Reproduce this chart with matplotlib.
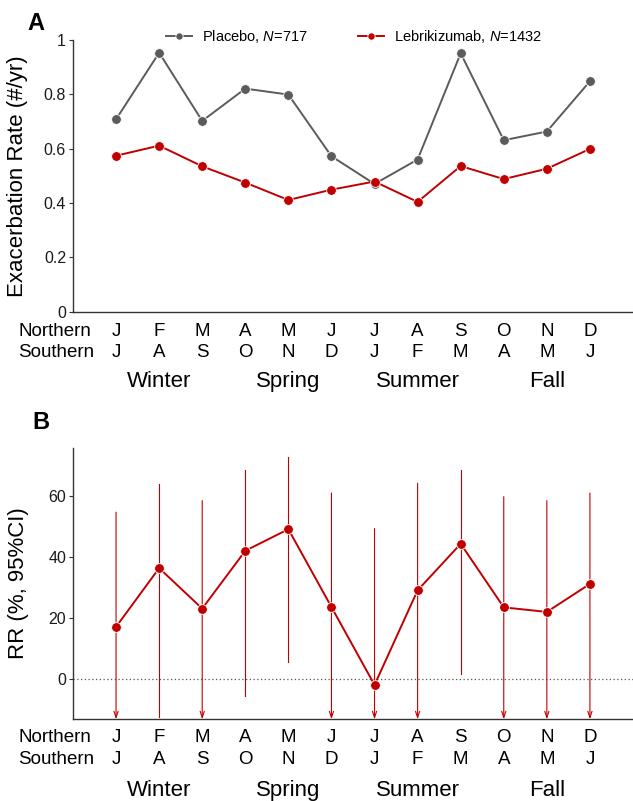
import matplotlib
matplotlib.use("Agg")
import matplotlib.pyplot as plt

# months shown in each hemisphere, seasons under them
months = list(range(1, 13))
north = ["J", "F", "M", "A", "M", "J", "J", "A", "S", "O", "N", "D"]
south = ["J", "A", "S", "O", "N", "D", "J", "F", "M", "A", "M", "J"]
seasons = ["Winter", "Spring", "Summer", "Fall"]
season_pos = [2, 5, 8, 11]

# panel A: exacerbation rate (#/yr)
placebo = [0.708, 0.953, 0.702, 0.821, 0.799, 0.572, 0.470, 0.560, 0.951, 0.631, 0.663, 0.848]
lebri = [0.574, 0.611, 0.535, 0.475, 0.411, 0.449, 0.479, 0.404, 0.536, 0.488, 0.526, 0.599]

# panel B: rate reduction (%) with 95% CI, None = lower bound off the axis
rr = [17.1, 36.4, 23.1, 42.1, 49.2, 23.6, -2.0, 29.1, 44.4, 23.5, 22.0, 31.2]
rr_hi = [54.8, 64.2, 58.6, 68.6, 72.9, 61.1, 49.4, 64.3, 68.8, 59.9, 58.6, 61.1]
rr_lo = [None, -12.6, None, -5.8, 5.7, None, None, None, 1.5, None, None, None]

GRAY = "#5b5b5b"
RED = "#c00000"

plt.rcParams["font.family"] = ["Liberation Sans", "DejaVu Sans"]
plt.rcParams["mathtext.fontset"] = "custom"
plt.rcParams["mathtext.rm"] = "Liberation Sans"
plt.rcParams["mathtext.it"] = "Liberation Sans:italic"


def style_axis(ax):
    for s in ["top", "right"]:
        ax.spines[s].set_visible(False)
    for s in ["left", "bottom"]:
        ax.spines[s].set_color("#333333")
        ax.spines[s].set_linewidth(1.0)
    ax.set_xlim(0, 13)
    ax.set_xticks([])
    ax.tick_params(axis="y", length=3, width=0.8, color="#333333",
                   labelsize=11.5, labelcolor="#1a1a1a", pad=2)


def month_rows(fig, ax, offs):
    for x, n, s in zip(months, north, south):
        ax.annotate(n, xy=(x, 0), xycoords=("data", "axes fraction"),
                    xytext=(0, -offs[0] * 0.72), textcoords="offset points",
                    ha="center", va="center", fontsize=13.5)
        ax.annotate(s, xy=(x, 0), xycoords=("data", "axes fraction"),
                    xytext=(0, -offs[1] * 0.72), textcoords="offset points",
                    ha="center", va="center", fontsize=13.5)
    for x, lab in zip(season_pos, seasons):
        ax.annotate(lab, xy=(x, 0), xycoords=("data", "axes fraction"),
                    xytext=(0, -offs[2] * 0.72), textcoords="offset points",
                    ha="center", va="center", fontsize=16)
    for lab, o in [("Northern", offs[0]), ("Southern", offs[1])]:
        ax.annotate(lab, xy=(18 / 633, 0), xycoords=("figure fraction", "axes fraction"),
                    xytext=(0, -o * 0.72), textcoords="offset points",
                    ha="left", va="center", fontsize=13.5)


fig = plt.figure(figsize=(6.33, 8.01), dpi=100)

# ---- panel A
axA = fig.add_axes([0.1153, 0.6109, 0.8847, 0.3392])
style_axis(axA)
axA.set_ylim(0, 1)
axA.set_yticks([0, 0.2, 0.4, 0.6, 0.8, 1])
axA.set_yticklabels(["0", "0.2", "0.4", "0.6", "0.8", "1"])
axA.plot(months, placebo, color=GRAY, lw=1.4, marker="o", ms=7,
         mec="white", mew=0.6, label=r"Placebo, $\mathit{N}$=717", zorder=3)
axA.plot(months, lebri, color=RED, lw=1.4, marker="o", ms=7,
         mec="white", mew=0.6, label=r"Lebrikizumab, $\mathit{N}$=1432", zorder=4)
axA.set_ylabel("Exacerbation Rate (#/yr)", fontsize=16)
axA.yaxis.label.set_va("center")
axA.yaxis.set_label_coords(-0.099, 0.5)
leg = axA.legend(loc="center", bbox_to_anchor=(0.502, 1.011), ncol=2, frameon=False,
                 fontsize=10.5, handlelength=1.8, handletextpad=0.7,
                 columnspacing=3.4, borderpad=0, markerscale=0.75)
month_rows(fig, axA, (20, 41, 70))
fig.text(27 / 633, 1 - 24 / 801, "A", fontsize=17, fontweight="bold", ha="left", va="center")

# ---- panel B
axB = fig.add_axes([0.1153, 0.1020, 0.8847, 0.3391])
style_axis(axB)
ylo, yhi = -13.3, 76
axB.set_ylim(ylo, yhi)
axB.set_yticks([0, 20, 40, 60])
axB.axhline(0, color="#555555", lw=0.9, ls=(0, (1, 2)), zorder=1)
for x, lo, hi in zip(months, rr_lo, rr_hi):
    if lo is None:
        axB.annotate("", xy=(x, ylo), xytext=(x, hi),
                     arrowprops=dict(arrowstyle="->,head_length=0.45,head_width=0.15",
                                     color=RED, lw=0.8, shrinkA=0, shrinkB=0), zorder=2)
    else:
        axB.plot([x, x], [lo, hi], color=RED, lw=0.8, zorder=2)
axB.plot(months, rr, color=RED, lw=1.4, marker="o", ms=7, mec="white", mew=0.6, zorder=4)
axB.set_ylabel("RR (%, 95%CI)", fontsize=16)
axB.yaxis.label.set_va("center")
axB.yaxis.set_label_coords(-0.097, 0.5)
month_rows(fig, axB, (18, 40, 71))
fig.text(32 / 633, 1 - 423 / 801, "B", fontsize=17, fontweight="bold", ha="left", va="center")

fig.savefig("out.png", dpi=100)
